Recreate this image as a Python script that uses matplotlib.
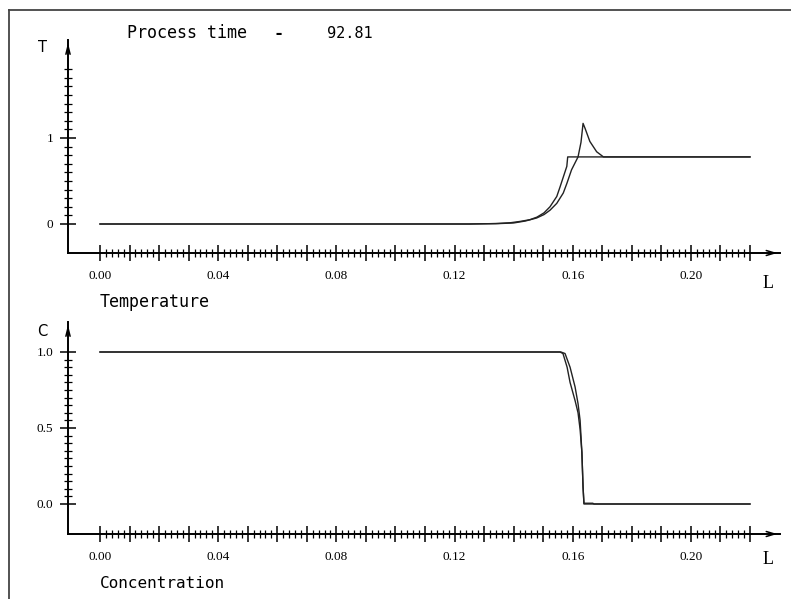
import matplotlib
matplotlib.use("Agg")
import matplotlib.pyplot as plt
from matplotlib.lines import Line2D
from matplotlib.ticker import FixedLocator, FuncFormatter

# Datos
tiempo_proceso = 92.81

# Temperatura: solucion con quiebre (A) y solucion con pico (B)
L_temp_a = [0.0, 0.125, 0.134, 0.139, 0.1422, 0.1455, 0.1479, 0.1503, 0.1523, 0.1546, 0.1557, 0.158, 0.1583, 0.22]
T_temp_a = [0.0, 0.0, 0.005, 0.015, 0.03, 0.05, 0.08, 0.13, 0.20, 0.32, 0.43, 0.67, 0.78, 0.78]
L_temp_b = [0.0, 0.125, 0.135, 0.140, 0.144, 0.1478, 0.1503, 0.1523, 0.1546, 0.1568, 0.158, 0.1596, 0.1618,
            0.1628, 0.1635, 0.1642, 0.1658, 0.1681, 0.1704, 0.22]
T_temp_b = [0.0, 0.0, 0.005, 0.012, 0.035, 0.07, 0.11, 0.16, 0.24, 0.36, 0.47, 0.63, 0.78,
            0.95, 1.17, 1.11, 0.96, 0.84, 0.78, 0.78]

# Concentracion
L_conc_a = [0.0, 0.1557, 0.1567, 0.1581, 0.1591, 0.1608, 0.1618, 0.1625, 0.1631, 0.1635, 0.1638, 0.22]
C_conc_a = [1.0, 1.0, 0.99, 0.90, 0.80, 0.68, 0.60, 0.49, 0.34, 0.11, 0.0, 0.0]
L_conc_b = [0.0, 0.1560, 0.1574, 0.1591, 0.1608, 0.1618, 0.1625, 0.1631, 0.1635, 0.1638, 0.1668, 0.1672, 0.22]
C_conc_b = [1.0, 1.0, 0.99, 0.90, 0.77, 0.66, 0.55, 0.34, 0.11, 0.005, 0.005, 0.0, 0.0]

W, H = 791, 599
fig = plt.figure(figsize=(W / 100, H / 100), dpi=100)
fig.patch.set_facecolor("white")

def fx(px):
    return px / W

def fy(py):
    return 1 - py / H

# Marco de la ventana
fig.add_artist(Line2D([fx(9), fx(9)], [0, fy(10)], transform=fig.transFigure, color="#444444", lw=1.3))
fig.add_artist(Line2D([fx(9), 1], [fy(10), fy(10)], transform=fig.transFigure, color="#444444", lw=1.3))

escala_x = 2954.5  # px por unidad de L
x_izq = (68 - 100) / escala_x
x_der = (780 - 100) / escala_x


def preparar(ax, ymin, ymax, ymaj, ymin_step, yfmt, ylabels):
    ax.set_xlim(x_izq, x_der)
    ax.set_ylim(ymin, ymax)
    for s in ["top", "right"]:
        ax.spines[s].set_visible(False)
    for s in ["left", "bottom"]:
        ax.spines[s].set_linewidth(1.4)
        ax.spines[s].set_color("black")
    ax.xaxis.set_major_locator(FixedLocator([i * 0.01 for i in range(23)]))
    ax.xaxis.set_minor_locator(FixedLocator([i * 0.002 for i in range(111)]))
    ax.xaxis.set_major_formatter(FuncFormatter(
        lambda v, p: "%.2f" % v if round(v * 100) % 4 == 0 else ""))
    ax.yaxis.set_major_locator(FixedLocator(ymaj))
    ax.yaxis.set_minor_locator(FixedLocator(ymin_step))
    ax.yaxis.set_major_formatter(FuncFormatter(
        lambda v, p: yfmt % v if round(v, 2) in ylabels else ""))
    ax.tick_params(which="major", direction="inout", length=11, width=1.1, pad=7)
    ax.tick_params(which="minor", direction="inout", length=6, width=0.9)
    ax.tick_params(axis="y", which="major", pad=5)
    for lab in ax.get_xticklabels() + ax.get_yticklabels():
        lab.set_fontfamily("Liberation Serif")
        lab.set_fontsize(9.5)
    # flechas de los ejes
    ax.annotate("", xy=(1.0, 0), xycoords="axes fraction", xytext=(0.985, 0),
                arrowprops=dict(arrowstyle="->,head_length=0.6,head_width=0.18", lw=1.1, color="black"))
    ax.annotate("", xy=(0, 1.0), xycoords="axes fraction", xytext=(0, 0.95),
                arrowprops=dict(arrowstyle="->,head_length=0.6,head_width=0.15", lw=1.1, color="black"))


# Panel de temperatura
escala_t = 86.0
ax1 = fig.add_axes([fx(68), fy(253), (780 - 68) / W, (253 - 40) / H])
preparar(ax1, (224 - 253) / escala_t, (224 - 40) / escala_t,
         [0.0, 1.0], [i * 0.1 for i in range(19)], "%d", [0.0, 1.0])
ax1.plot(L_temp_a, T_temp_a, color="#222222", lw=1.0)
ax1.plot(L_temp_b, T_temp_b, color="#222222", lw=1.0)

# Panel de concentracion
escala_c = 152.0
ax2 = fig.add_axes([fx(68), fy(534), (780 - 68) / W, (534 - 322) / H])
preparar(ax2, (504 - 534) / escala_c, (504 - 322) / escala_c,
         [0.0, 0.5, 1.0], [i * 0.05 for i in range(21)], "%.1f", [0.0, 0.5, 1.0])
ax2.plot(L_conc_a, C_conc_a, color="#222222", lw=1.0)
ax2.plot(L_conc_b, C_conc_b, color="#222222", lw=1.0)

# Textos
mono = "DejaVu Sans Mono"
fig.text(fx(127), fy(33), "Process time", family=mono, fontsize=12, va="center", ha="left")
fig.text(fx(278), fy(34), "-", family=mono, fontsize=12, va="center", ha="center", fontweight="bold")
fig.text(fx(327), fy(33), "%.2f" % tiempo_proceso, family=mono, fontsize=11, va="center", ha="left")
fig.text(fx(42), fy(48), "T", family="DejaVu Sans", fontsize=10.5, va="center", ha="center")
fig.text(fx(42), fy(331), "C", family="DejaVu Sans", fontsize=10.5, va="center", ha="center")
fig.text(fx(768), fy(283), "L", family="Liberation Serif", fontsize=13, va="center", ha="center")
fig.text(fx(768), fy(560), "L", family="Liberation Serif", fontsize=13, va="center", ha="center")
fig.text(fx(100), fy(302), "Temperature", family=mono, fontsize=12, va="center", ha="left")
fig.text(fx(100), fy(583), "Concentration", family=mono, fontsize=11.5, va="center", ha="left")

plt.savefig("out.png", dpi=100)
plt.close()
